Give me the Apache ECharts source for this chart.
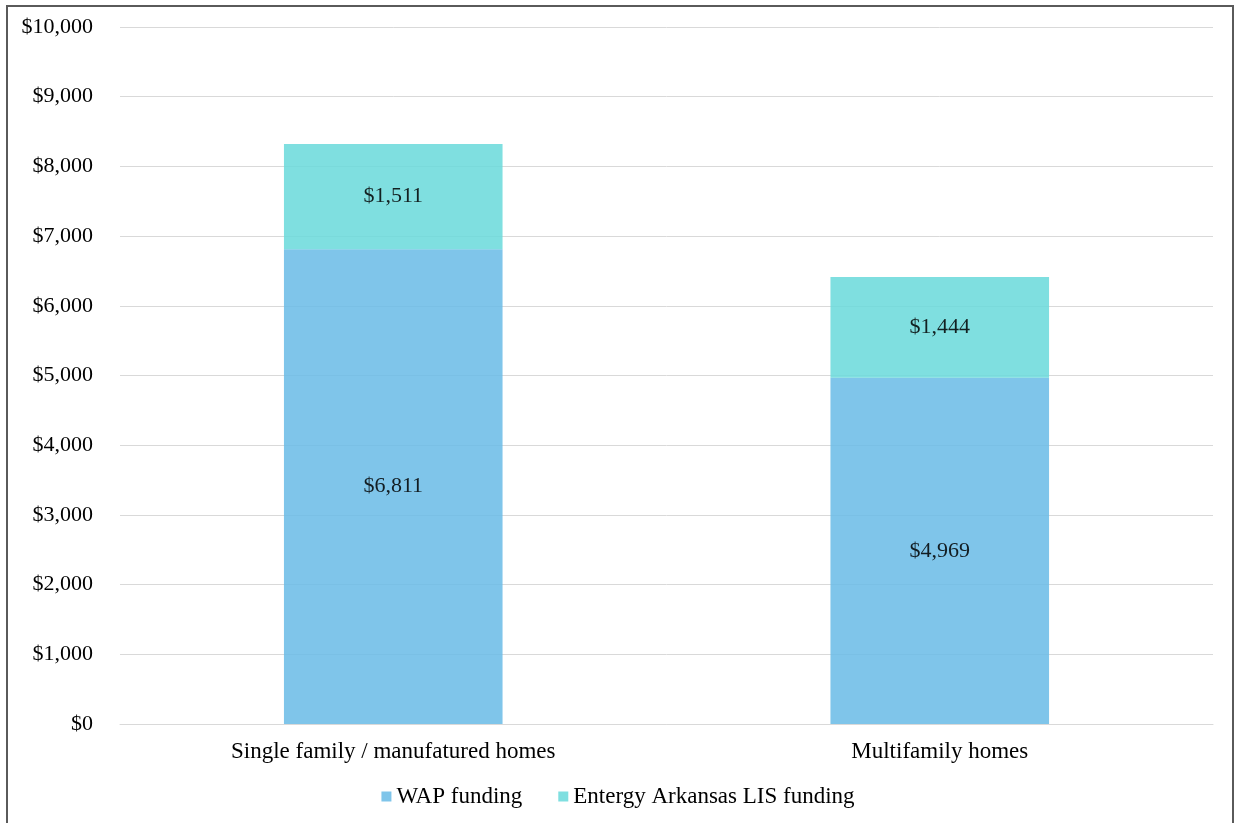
<!DOCTYPE html>
<html>
<head>
<meta charset="utf-8">
<script src="https://cdn.jsdelivr.net/npm/echarts@6/dist/echarts.min.js"></script>
<style>
  html, body { margin: 0; padding: 0; background: #fff; }
  #chart { width: 1236px; height: 823px; }
  .frame {
    position: absolute; left: 6px; top: 5px; width: 1228px; height: 840px;
    border: 2px solid #5a5a5a; box-sizing: border-box; pointer-events: none;
  }
</style>
</head>
<body>
<div id="chart"></div>
<div class="frame"></div>
<script>
// data
var categories = ['Single family / manufatured homes', 'Multifamily homes'];
var wapFunding = [6811, 4969];
var entergyFunding = [1511, 1444];
var seriesNames = ['WAP funding', 'Entergy Arkansas LIS funding'];

var font = 'Liberation Serif';
var fs = 22;
var money = function (v) { return '$' + Number(v).toLocaleString('en-US'); };

var chartDom = document.getElementById('chart');
var myChart = echarts.init(chartDom);
var option = {
  animation: false,
  textStyle: { fontFamily: font },
  grid: { left: 120, right: 23, top: 27, bottom: 99 },
  legend: {
    bottom: 10,
    left: 'center',
    itemWidth: 10,
    itemHeight: 10,
    itemGap: 36,
    icon: 'rect',
    textStyle: { fontFamily: font, fontSize: 23, color: '#000' },
    data: seriesNames
  },
  xAxis: {
    type: 'category',
    data: categories,
    axisLine: { lineStyle: { color: '#d9d9d9', width: 1 } },
    axisTick: { show: false },
    axisLabel: { fontFamily: font, fontSize: 23, color: '#000', margin: 16 }
  },
  yAxis: {
    type: 'value',
    min: 0,
    max: 10000,
    interval: 1000,
    axisLine: { show: false },
    axisTick: { show: false },
    splitLine: { lineStyle: { color: '#d9d9d9', width: 1 } },
    axisLabel: { fontFamily: font, fontSize: fs, color: '#000', margin: 27, formatter: money }
  },
  series: [
    {
      name: seriesNames[0],
      type: 'bar',
      stack: 'total',
      barWidth: '40%',
      data: wapFunding,
      itemStyle: { color: 'rgb(104,187,230)', opacity: 0.85 },
      label: {
        show: true, position: 'inside', fontFamily: font, fontSize: fs, color: '#000',
        formatter: function (p) { return money(p.value); }
      }
    },
    {
      name: seriesNames[1],
      type: 'bar',
      stack: 'total',
      barWidth: '40%',
      data: entergyFunding,
      itemStyle: { color: 'rgb(104,217,219)', opacity: 0.85 },
      label: {
        show: true, position: 'inside', fontFamily: font, fontSize: fs, color: '#000',
        formatter: function (p) { return money(p.value); }
      }
    }
  ]
};
option && myChart.setOption(option);
</script>
</body>
</html>
